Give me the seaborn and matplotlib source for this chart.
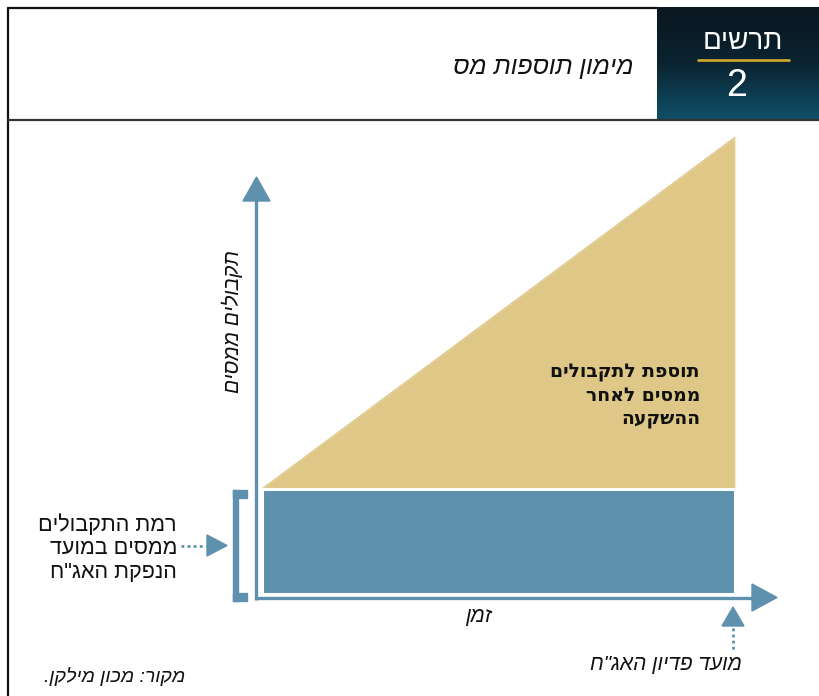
import numpy as np
import matplotlib
matplotlib.use("Agg")
import matplotlib.pyplot as plt
import matplotlib.patches as mpatches
import seaborn as sns

sns.set_theme(style="white")
plt.rcParams['font.family'] = ['Liberation Sans', 'DejaVu Sans']

# data: a conceptual chart, time from bond issue (0) to redemption (1)
time = [0.0, 1.0]
base_receipts = [1.0, 1.0]       # tax receipts level at bond issue
extra_receipts = [0.0, 3.35]     # added receipts after the investment

title = "מימון תוספות מס"
chart_word = "תרשים"
chart_no = "2"
y_label = "תקבולים ממסים"
x_label = "זמן"
extra_label = ["תוספת לתקבולים", "ממסים לאחר", "ההשקעה"]
base_label = ["רמת התקבולים", "ממסים במועד", "הנפקת האג\"ח"]
redeem_label = "מועד פדיון האג\"ח"
source = "מקור: מכון מילקן."

blue = "#5e91ad"
gold = "#dfc787"


def heb(s):
    # matplotlib has no bidi, so flip to visual order
    return s[::-1]


W, H = 819, 696
fig = plt.figure(figsize=(W / 100, H / 100), dpi=100)

# main axes for the data
ax = fig.add_axes([0, 0, 1, 1])
ax.patch.set_alpha(0)
x0px, x1px = 262, 735
y0px, ypu = 594, 105
sx = x1px - x0px
ax.set_xlim(-x0px / sx, (W - x0px) / sx)
ax.set_ylim((y0px - H) / ypu, y0px / ypu)
ax.axis("off")

top = [b + e for b, e in zip(base_receipts, extra_receipts)]
ax.fill_between(time, base_receipts, top, color=gold, lw=0, zorder=2)
sns.lineplot(x=time, y=top, color=gold, lw=1, ax=ax, zorder=2)
ax.fill_between(time, 0, base_receipts, facecolor=blue, edgecolor="white", lw=2.2, zorder=3)
ax.plot([time[1], time[1]], [base_receipts[1], top[1]], color="#f3ead0", lw=1, zorder=2)

# decoration layer in pixel coords, drawn above the data
deco = fig.add_axes([0, 0, 1, 1])
deco.set_xlim(0, W)
deco.set_ylim(H, 0)
deco.axis("off")
deco.set_zorder(ax.get_zorder() + 1)

# header panel with gradient
grad = np.linspace(0, 1, 100).reshape(-1, 1)
cmap = matplotlib.colors.LinearSegmentedColormap.from_list("hdr", ["#0a1721", "#0b2330", "#0f4f67"])
deco.imshow(grad, cmap=cmap, extent=[657, W, 119, 7], aspect="auto", zorder=1)
deco.plot([8, 657], [8, 8], color="#111111", lw=1.6, zorder=2)
deco.plot([8, 8], [8, H], color="#111111", lw=1.6, zorder=2)
deco.plot([8, W], [120, 120], color="#333333", lw=1.6, zorder=2)
deco.plot([698, 789], [60, 60], color="#c9a42c", lw=2, zorder=3)
deco.text(743, 42, heb(chart_word), color="white", fontsize=20, ha="center", va="center", zorder=3)
deco.text(737, 86, chart_no, color="white", fontsize=27, ha="center", va="center", zorder=3)
deco.text(633, 67, heb(title), fontsize=18, style="italic", ha="right", va="center", color="#111111")

# axes arrows
deco.plot([256, 256], [600, 198], color=blue, lw=2.4, zorder=4, solid_capstyle="butt")
deco.add_patch(mpatches.Polygon([[243, 201], [270, 201], [256.5, 177]], closed=True, color=blue, zorder=4))
deco.plot([255, 754], [597.5, 597.5], color=blue, lw=2.4, zorder=4, solid_capstyle="butt")
deco.add_patch(mpatches.Polygon([[752, 584], [752, 611], [777, 597.5]], closed=True, color=blue, zorder=4))

# bracket
deco.add_patch(mpatches.Rectangle((233, 490), 14, 8, color=blue, zorder=4))
deco.add_patch(mpatches.Rectangle((233, 593), 14, 8, color=blue, zorder=4))
deco.add_patch(mpatches.Rectangle((233, 490), 4.5, 111, color=blue, zorder=4))

# left pointer
deco.plot([181, 206], [546, 546], color=blue, lw=2, ls=(0, (1, 1.2)), zorder=4)
deco.add_patch(mpatches.Polygon([[207, 535], [207, 556], [227, 545.5]], closed=True, color=blue, zorder=4))

# redemption pointer
deco.plot([733, 733], [628, 651], color=blue, lw=2, ls=(0, (1, 1.2)), zorder=4)
deco.add_patch(mpatches.Polygon([[722, 626], [744, 626], [733, 607]], closed=True, color=blue, zorder=4))

# labels
deco.text(232, 322, heb(y_label), rotation=90, fontsize=15, style="italic", ha="center", va="center", color="#111111")
deco.text(478, 616, heb(x_label), fontsize=15, style="italic", ha="center", va="center", color="#111111")
deco.text(742, 664, heb(redeem_label), fontsize=15, style="italic", ha="right", va="center", color="#111111")
deco.text(185, 677, heb(source), fontsize=14, style="italic", ha="right", va="center", color="#111111")
for i, line in enumerate(base_label):
    deco.text(177, 525 + 23.5 * i, heb(line), fontsize=15.5, ha="right", va="center", color="#111111")
for i, line in enumerate(extra_label):
    deco.text(700, 372 + 23.5 * i, heb(line), fontsize=13.5, fontweight="bold", family=["DejaVu Sans"],
              ha="right", va="center", color="#111111", zorder=5)

fig.savefig("out.png", dpi=100)
